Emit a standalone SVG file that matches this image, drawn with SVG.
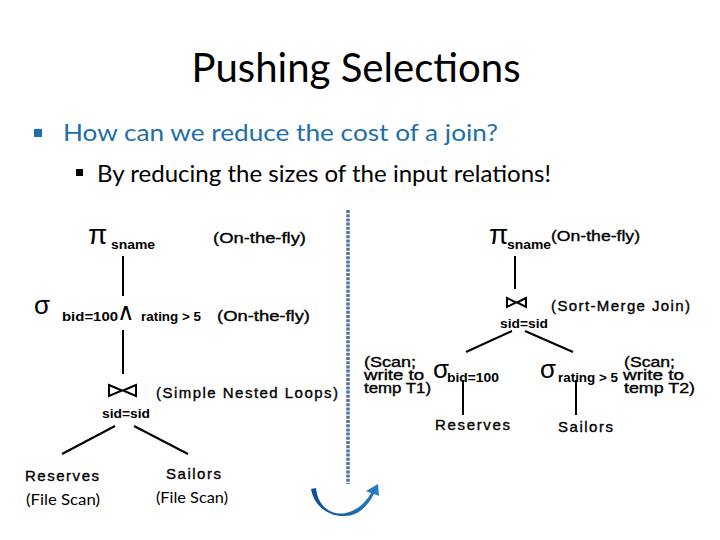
<svg xmlns="http://www.w3.org/2000/svg" width="720" height="540" viewBox="0 0 720 540">
<defs>
<style>
.t{font-family:"Liberation Sans",Arial,sans-serif;fill:#000}
.h{font-family:Lato,"Open Sans",sans-serif}
.lbl{font-size:15px;stroke:#000;stroke-width:0.35}
.scan{font-size:14px;stroke:#000;stroke-width:0.35}
.sub{font-size:13px;font-weight:bold}
.sym{font-size:28px}
.sig{font-size:26px}
.edge{stroke:#000;stroke-width:2;fill:none}
.bow{stroke:#000;stroke-width:2;fill:none;stroke-linejoin:miter}
</style>
<linearGradient id="ag" x1="0" y1="0" x2="1" y2="0">
<stop offset="0" stop-color="#0d4f8f"/>
<stop offset="1" stop-color="#2a7cc4"/>
</linearGradient>
</defs>
<rect width="720" height="540" fill="#fff"/>
<g id="title"><text class="h" x="356" y="82" font-size="40" text-anchor="middle" textLength="329" lengthAdjust="spacingAndGlyphs">Pushing Selections</text></g>
<g id="bullet1"><rect x="34" y="129" width="8" height="8" fill="#1E6FA9"/><text class="h" x="63" y="141" font-size="23" fill="#1E6FA9" textLength="435" lengthAdjust="spacingAndGlyphs">How can we reduce the cost of a join?</text></g>
<g id="bullet2"><rect x="76" y="169" width="7" height="7" fill="#000"/><text class="h" x="97" y="182" font-size="23" fill="#000" textLength="454" lengthAdjust="spacingAndGlyphs">By reducing the sizes of the input relations!</text></g>

<g id="connectors">
<line class="edge" x1="123" y1="256" x2="123" y2="296"/>
<line class="edge" x1="123" y1="330" x2="123" y2="374"/>
<line class="edge" x1="115" y1="426" x2="62" y2="454"/>
<line class="edge" x1="134" y1="426" x2="188" y2="454"/>
<line class="edge" x1="515" y1="256" x2="515" y2="289"/>
<line class="edge" x1="512" y1="331" x2="466" y2="352"/>
<line class="edge" x1="525" y1="331" x2="573" y2="352"/>
<line class="edge" x1="463" y1="380" x2="463" y2="415"/>
<line class="edge" x1="576" y1="380" x2="576" y2="415"/>
</g>

<g id="divider"><line x1="348" y1="210" x2="348" y2="484" stroke="#4F7399" stroke-width="3.5" stroke-dasharray="3 1.2"/></g>
<g id="arrow">
<path d="M316,488 C318,508 333,516 346,513 C358,510 366,502 371,493 L366,491 L378,484 L379,496 L374,494 C368,506 358,516 345,516 C330,517 314,507 311,489 Z" fill="url(#ag)"/>
</g>

<g id="l-proj">
<text class="t sym" x="88" y="244">π</text>
<text class="t sub" x="111" y="249" textLength="44" lengthAdjust="spacingAndGlyphs">sname</text>
<text class="t lbl" x="213" y="243" textLength="93" lengthAdjust="spacingAndGlyphs">(On-the-fly)</text>
</g>
<g id="l-sel">
<text class="t sig" x="34" y="314">σ</text>
<text class="t sub" x="62" y="321" textLength="56" lengthAdjust="spacingAndGlyphs">bid=100</text>
<text x="117" y="320" font-family="'DejaVu Sans',sans-serif" font-size="24" fill="#000">∧</text>
<text class="t" x="141" y="321" font-size="12.5" font-weight="bold" textLength="60" lengthAdjust="spacingAndGlyphs">rating &gt; 5</text>
<text class="t lbl" x="217" y="321" textLength="93" lengthAdjust="spacingAndGlyphs">(On-the-fly)</text>
</g>
<g id="l-join">
<path class="bow" d="M109,385 L122,390.5 L109,396 Z M136,385 L123,390.5 L136,396 Z"/>
<text class="t lbl" x="156" y="398" textLength="182" lengthAdjust="spacing">(Simple Nested Loops)</text>
<text class="t sub" x="102" y="418" textLength="48" lengthAdjust="spacingAndGlyphs">sid=sid</text>
</g>
<g id="l-reserves">
<text class="t lbl" x="25" y="481" textLength="74" lengthAdjust="spacing">Reserves</text>
<text class="h" x="26" y="505" font-size="15" textLength="74" lengthAdjust="spacingAndGlyphs">(File Scan)</text>
</g>
<g id="l-sailors">
<text class="t lbl" x="166" y="479" textLength="55" lengthAdjust="spacing">Sailors</text>
<text class="h" x="156" y="503" font-size="15" textLength="72" lengthAdjust="spacingAndGlyphs">(File Scan)</text>
</g>

<g id="r-proj">
<text class="t sym" x="489" y="244">π</text>
<text class="t sub" x="507" y="249" textLength="44" lengthAdjust="spacingAndGlyphs">sname</text>
<text class="t lbl" x="551" y="241" textLength="89" lengthAdjust="spacingAndGlyphs">(On-the-fly)</text>
</g>
<g id="r-join">
<path class="bow" d="M507,298 L516,302.5 L507,307 Z M526,298 L517,302.5 L526,307 Z"/>
<text class="t lbl" x="551" y="311" textLength="139" lengthAdjust="spacing">(Sort-Merge Join)</text>
<text class="t sub" x="500" y="328" textLength="48" lengthAdjust="spacingAndGlyphs">sid=sid</text>
</g>
<g id="r-sel1">
<text class="t scan" x="364" y="367" textLength="52" lengthAdjust="spacingAndGlyphs">(Scan;</text>
<text class="t scan" x="364" y="380" textLength="60" lengthAdjust="spacingAndGlyphs">write to</text>
<text class="t scan" x="364" y="393" textLength="67" lengthAdjust="spacingAndGlyphs">temp T1)</text>
<text class="t sig" x="433" y="378">σ</text>
<text class="t sub" x="447" y="382" textLength="52" lengthAdjust="spacingAndGlyphs">bid=100</text>
</g>
<g id="r-sel2">
<text class="t sig" x="540" y="378">σ</text>
<text class="t" x="558" y="382" font-size="12.5" font-weight="bold" textLength="60" lengthAdjust="spacingAndGlyphs">rating &gt; 5</text>
<text class="t scan" x="624" y="367" textLength="51" lengthAdjust="spacingAndGlyphs">(Scan;</text>
<text class="t scan" x="623" y="380" textLength="61" lengthAdjust="spacingAndGlyphs">write to</text>
<text class="t scan" x="624" y="393" textLength="71" lengthAdjust="spacingAndGlyphs">temp T2)</text>
</g>
<g id="r-reserves"><text class="t lbl" x="435" y="430" textLength="75" lengthAdjust="spacing">Reserves</text></g>
<g id="r-sailors"><text class="t lbl" x="558" y="432" textLength="55" lengthAdjust="spacing">Sailors</text></g>
</svg>
